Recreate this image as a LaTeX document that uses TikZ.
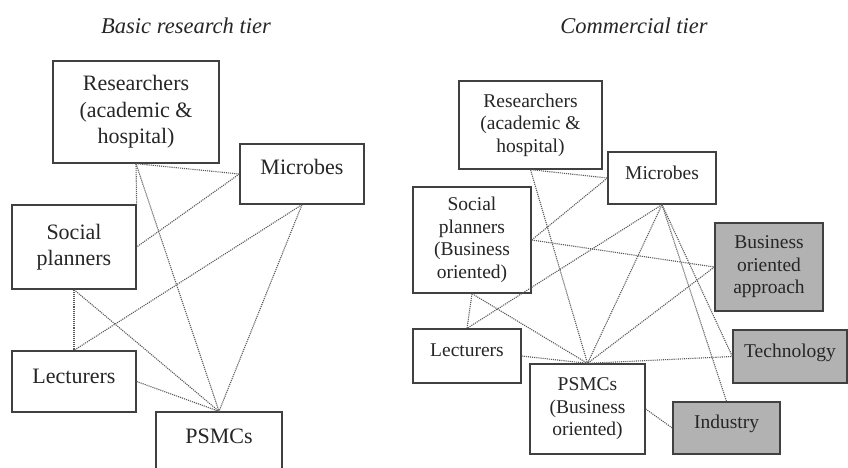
\documentclass[tikz,border=0pt]{standalone}
\usepackage{fontspec}
\setmainfont{Liberation Serif}
\begin{document}
\begin{tikzpicture}[x=1pt,y=-1pt,
  box/.style={draw=black!75, line width=1.3pt, rectangle, inner sep=0pt, align=center, fill=white, text=black!85},
  lbox/.style={box, font=\fontsize{22}{26.5}\selectfont},
  rbox/.style={box, font=\fontsize{19.5}{22.5}\selectfont},
  shaded/.style={fill=gray!60},
  link/.style={draw=black!65, line width=1.1pt, dash pattern=on 1.1pt off 1pt},
  title/.style={font=\fontsize{22.5}{27}\selectfont\itshape, text=black!85}]
\useasboundingbox (0,0) rectangle (848,468);
\begin{scope}
\clip (0,0) rectangle (848,468);
\fill[white] (0,0) rectangle (848,468);

% titles
\node[title] (t1) at (186,26) {Basic research tier};
\node[title] (t2) at (634,26) {Commercial tier};

% left panel
\node[lbox, minimum width=166pt, minimum height=102pt] (R) at (136,112) {Researchers\\(academic \&\\hospital)};
\node[lbox, minimum width=124pt, minimum height=60pt] (M) at (302,174) {\raisebox{14pt}{Microbes}};
\node[lbox, minimum width=124pt, minimum height=84pt] (S) at (74,247) {Social\\planners};
\node[lbox, minimum width=124pt, minimum height=61pt] (L) at (74,381.5) {\raisebox{11pt}{Lecturers}};
\node[lbox, minimum width=126pt, minimum height=68pt] (P) at (219,446) {\raisebox{20pt}{PSMCs}};

\draw[link] (R.south) -- (M.west);
\draw[link] (R.south) -- (S.north east);
\draw[link] (R.south) -- (P.north);
\draw[link] (M.west) -- (S.east);
\draw[link] (M.south) -- (L.north);
\draw[link] (M.south) -- (P.north);
\draw[link] (S.south) -- (L.north);
\draw[link] (S.south) -- (P.north);
\draw[link] (L.east) -- (P.north);

% right panel
\node[rbox, minimum width=143pt, minimum height=88pt] (R2) at (530.5,125) {Researchers\\(academic \&\\hospital)};
\node[rbox, minimum width=108pt, minimum height=52pt] (M2) at (662,178) {\raisebox{10pt}{Microbes}};
\node[rbox, minimum width=118pt, minimum height=106pt] (S2) at (472,240) {Social\\planners\\(Business\\oriented)};
\node[rbox, shaded, minimum width=108pt, minimum height=88pt] (B2) at (769,267) {Business\\oriented\\approach};
\node[rbox, minimum width=108pt, minimum height=54pt] (L2) at (467,356) {\raisebox{12pt}{Lecturers}};
\node[rbox, minimum width=115pt, minimum height=90pt] (P2) at (587.5,409) {PSMCs\\(Business\\oriented)};
\node[rbox, shaded, minimum width=114pt, minimum height=53pt] (T2) at (790,356.5) {\raisebox{12pt}{Technology}};
\node[rbox, shaded, minimum width=107pt, minimum height=52pt] (I2) at (726.5,428) {\raisebox{12pt}{Industry}};

\draw[link] (R2.south) -- (M2.west);
\draw[link] (R2.south) -- (P2.north);
\draw[link] (M2.west) -- (S2.east);
\draw[link] (S2.east) -- (B2.west);
\draw[link] (M2.south) -- (L2.north);
\draw[link] (M2.south) -- (P2.north);
\draw[link] (M2.south) -- (T2.west);
\draw[link] (M2.south) -- (I2.north);
\draw[link] (S2.south) -- (L2.north);
\draw[link] (S2.south) -- (P2.north);
\draw[link] (B2.west) -- (P2.north);
\draw[link] (L2.east) -- (P2.north);
\draw[link] (P2.north) -- (T2.west);
\draw[link] (P2.east) -- (I2.west);
\end{scope}
\end{tikzpicture}
\end{document}
